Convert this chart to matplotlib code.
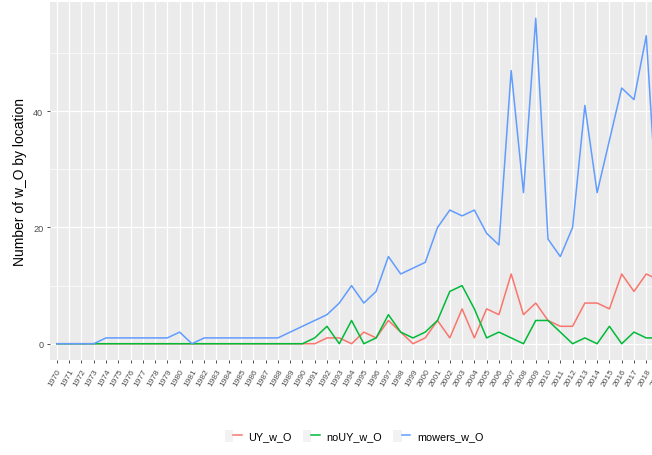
import matplotlib.pyplot as plt
from matplotlib.lines import Line2D
from matplotlib.patches import Patch
from matplotlib.legend_handler import HandlerTuple

# yearly counts per location
years = [str(y) for y in range(1970, 2020)]
uy_w_o = [0, 0, 0, 0, 0, 0, 0, 0, 0, 0,
          0, 0, 0, 0, 0, 0, 0, 0, 0, 0,
          0, 0, 1, 1, 0, 2, 1, 4, 2, 0,
          1, 4, 1, 6, 1, 6, 5, 12, 5, 7,
          4, 3, 3, 7, 7, 6, 12, 9, 12, 11]
nouy_w_o = [0, 0, 0, 0, 0, 0, 0, 0, 0, 0,
            0, 0, 0, 0, 0, 0, 0, 0, 0, 0,
            0, 1, 3, 0, 4, 0, 1, 5, 2, 1,
            2, 4, 9, 10, 6, 1, 2, 1, 0, 4,
            4, 2, 0, 1, 0, 3, 0, 2, 1, 1]
mowers_w_o = [0, 0, 0, 0, 1, 1, 1, 1, 1, 1,
              2, 0, 1, 1, 1, 1, 1, 1, 1, 2,
              3, 4, 5, 7, 10, 7, 9, 15, 12, 13,
              14, 20, 23, 22, 23, 19, 17, 47, 26, 56,
              18, 15, 20, 41, 26, 35, 44, 42, 53, 19]

series = [("UY_w_O", uy_w_o, "#F8766D"),
          ("noUY_w_O", nouy_w_o, "#00BA38"),
          ("mowers_w_O", mowers_w_o, "#619CFF")]

plt.rcParams['font.family'] = ['Liberation Sans', 'DejaVu Sans']

fig = plt.figure(figsize=(6.52, 4.56), dpi=100)
# panel runs past the right edge of the figure
ax = fig.add_axes([49.5 / 652, 95 / 456, 616.4 / 652, 358 / 456])
ax.set_facecolor("#EBEBEB")
for s in ax.spines.values():
    s.set_visible(False)

x = list(range(len(years)))
handles = []
for name, vals, col in series:
    ax.plot(x, vals, color=col, lw=1.1, solid_joinstyle='round')
    handles.append((Patch(facecolor="#F2F2F2", edgecolor="none"),
                    Line2D([], [], color=col, lw=1.1)))

ax.set_xlim(-0.6, len(years) - 1 + 0.6)
ax.set_ylim(-2.8, 58.8)
ax.set_xticks(x)
ax.set_xticklabels(years, rotation=60, ha='right', va='top',
                   rotation_mode='anchor', fontsize=6.0, color="#4D4D4D")
ax.set_yticks([0, 20, 40])
ax.set_yticks([10, 30, 50], minor=True)
ax.tick_params(axis='y', labelsize=6.6, labelcolor="#4D4D4D", length=2.5,
               width=0.6, color="#333333", pad=2)
ax.tick_params(axis='y', which='minor', length=0)
ax.tick_params(axis='x', length=2.5, width=0.6, color="#333333", pad=3)
ax.grid(True, which='major', color='white', lw=0.9)
ax.grid(True, which='minor', axis='y', color='white', lw=0.45)
ax.set_axisbelow(True)
ax.set_ylabel("Number of w_O by location", fontsize=10.0, color="black", labelpad=4)

fig.legend(handles, [s[0] for s in series], ncol=3, loc='center',
           bbox_to_anchor=(0.543, 0.042), frameon=False, fontsize=7.8,
           handlelength=1.6, handleheight=1.3, columnspacing=1.0,
           handletextpad=0.6,
           handler_map={tuple: HandlerTuple(ndivide=None, pad=0)})

fig.savefig("out.png", dpi=100)
